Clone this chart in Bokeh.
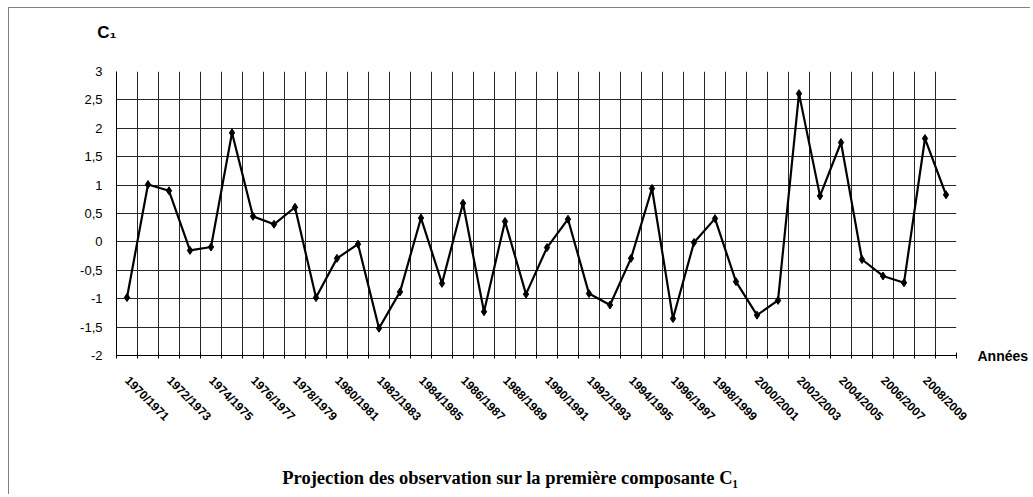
import math
from bokeh.plotting import figure
from bokeh.models import Range1d, FixedTicker, LinearAxis
from bokeh.embed import file_html
from bokeh.resources import INLINE

years = ["1970/1971", "1971/1972", "1972/1973", "1973/1974", "1974/1975",
         "1975/1976", "1976/1977", "1977/1978", "1978/1979", "1979/1980",
         "1980/1981", "1981/1982", "1982/1983", "1983/1984", "1984/1985",
         "1985/1986", "1986/1987", "1987/1988", "1988/1989", "1989/1990",
         "1990/1991", "1991/1992", "1992/1993", "1993/1994", "1994/1995",
         "1995/1996", "1996/1997", "1997/1998", "1998/1999", "1999/2000",
         "2000/2001", "2001/2002", "2002/2003", "2003/2004", "2004/2005",
         "2005/2006", "2006/2007", "2007/2008", "2008/2009", "2009/2010"]

c1 = [-0.98, 1.01, 0.90, -0.15, -0.09, 1.92, 0.45, 0.31, 0.61, -0.98,
      -0.29, -0.04, -1.52, -0.88, 0.42, -0.73, 0.68, -1.23, 0.36, -0.92,
      -0.10, 0.40, -0.91, -1.11, -0.29, 0.94, -1.35, -0.01, 0.41, -0.70,
      -1.29, -1.03, 2.61, 0.81, 1.75, -0.31, -0.60, -0.72, 1.82, 0.83]

y_ticks = [-2, -1.5, -1, -0.5, 0, 0.5, 1, 1.5, 2, 2.5, 3]
y_tick_labels = ["-2", "-1,5", "-1", "-0,5", "0", "0,5", "1", "1,5", "2", "2,5", "3"]

title_text = "Projection des observation sur la première composante C\u2081"
y_title = "C\u2081"
x_title = "Années"

n = len(years)
xs = [i + 0.5 for i in range(n)]
boundaries = list(range(n + 1))
label_pos = xs[::2]

# frame edges in page pixels, used only to place the caption texts
FL, FR = 115.5, 958.0
title_x = (510.5 - FL) / (FR - FL) * n

p = figure(width=1022, height=487, output_backend="svg", toolbar_location=None,
           x_range=Range1d(0, n), y_range=Range1d(-2, 3),
           min_border_left=107, min_border_right=73, min_border_top=63,
           min_border_bottom=140, background_fill_color="white",
           border_fill_color="white", outline_line_color=None)
p.styles = {"border-left": "1px solid #808080", "border-top": "1px solid #808080",
            "margin-left": "8px", "margin-top": "7px"}

# x axis
xa = p.xaxis[0]
xa.ticker = FixedTicker(ticks=label_pos, minor_ticks=boundaries)
xa.major_label_overrides = {label_pos[k]: years[2 * k] for k in range(len(label_pos))}
xa.major_tick_line_color = None
xa.major_tick_in = 0
xa.major_tick_out = 0
xa.minor_tick_in = 3
xa.minor_tick_out = 3
xa.minor_tick_line_color = "black"
xa.axis_line_color = "black"
xa.major_label_orientation = -math.pi / 4
xa.major_label_standoff = 20
xa.major_label_text_font = "Liberation Sans"
xa.major_label_text_font_style = "bold"
xa.major_label_text_font_size = "12px"
xa.major_label_text_color = "black"

# y axis
ya = p.yaxis[0]
ya.ticker = FixedTicker(ticks=y_ticks)
ya.major_label_overrides = {y_ticks[k]: y_tick_labels[k] for k in range(len(y_ticks))}
ya.major_tick_in = 0
ya.major_tick_out = 0
ya.minor_tick_line_color = None
ya.axis_line_color = "black"
ya.major_label_standoff = 14
ya.major_label_text_font = "Liberation Sans"
ya.major_label_text_font_size = "13px"
ya.major_label_text_color = "black"

def bare_axis(tick, text, standoff, font, size, orientation="horizontal"):
    return LinearAxis(ticker=FixedTicker(ticks=[tick]), major_label_overrides={tick: text},
                      axis_line_color=None, major_tick_line_color=None,
                      minor_tick_line_color=None, major_tick_in=0, major_tick_out=0,
                      major_label_standoff=standoff, major_label_text_font=font,
                      major_label_text_font_style="bold", major_label_text_font_size=size,
                      major_label_text_color="black", major_label_orientation=orientation)

# "Années" beside the bottom of the value range
p.add_layout(bare_axis(-2, x_title, 21, "Liberation Sans", "14px"), "right")
# chart caption under the year labels
p.add_layout(bare_axis(title_x, title_text, 36, "Liberation Serif", "18.5px"), "below")
# "C1" above the value axis, ending at the frame's left edge
p.add_layout(bare_axis(0, y_title, 39, "Liberation Sans", "17px", orientation=-0.0001), "above")

p.xgrid.ticker = FixedTicker(ticks=boundaries)
p.xgrid.grid_line_color = "#262626"
p.ygrid.grid_line_color = "#262626"

p.line(xs, c1, line_width=2.2, color="black")
p.scatter(xs, c1, marker="diamond", size=8, color="black")

open("out.html", "w").write(file_html(p, INLINE))
